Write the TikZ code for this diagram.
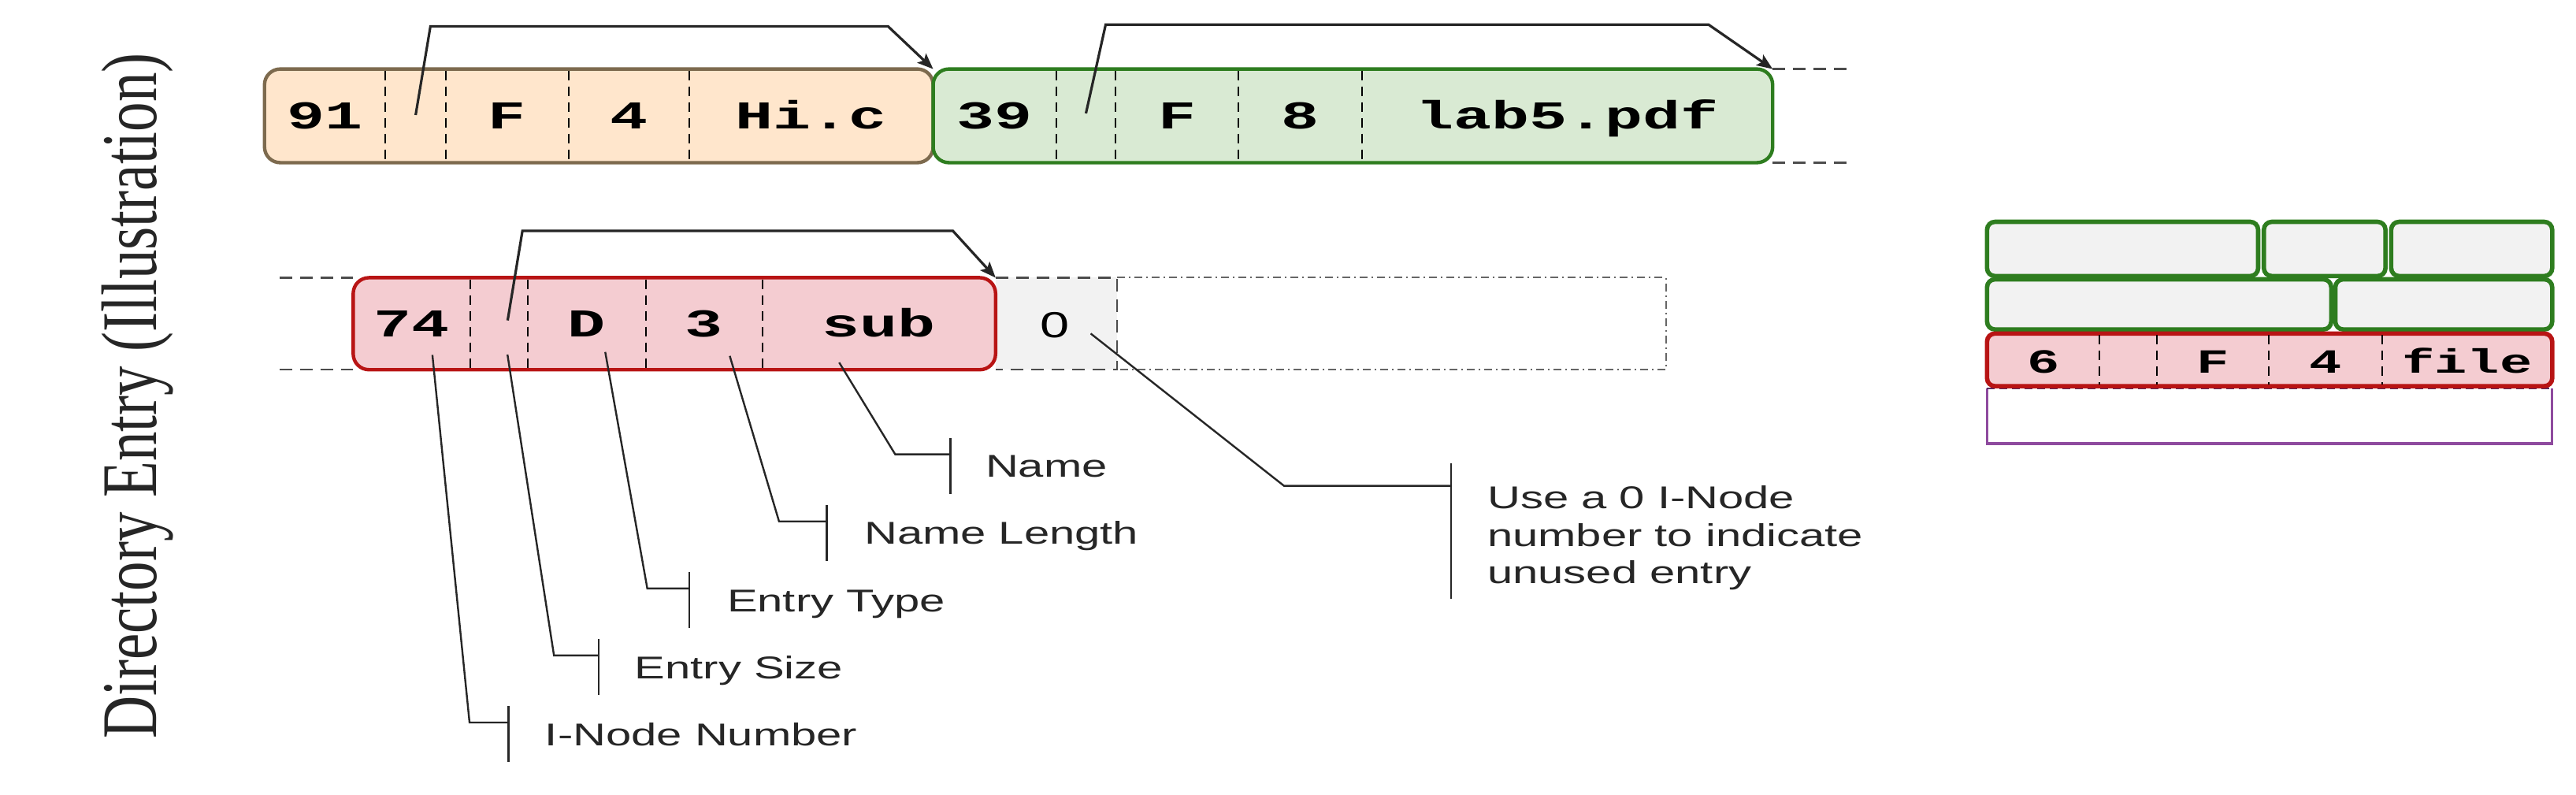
\documentclass[tikz,border=0pt]{standalone}
\usepackage{fontspec}
\usetikzlibrary{arrows.meta}
\newfontfamily\labfont[FakeStretch=1.45]{Liberation Sans}
\newfontfamily\monofont[FakeStretch=1.6]{Liberation Mono}
\newfontfamily\titlefont[FakeStretch=0.75]{Liberation Serif}
\definecolor{orfill}{HTML}{FFE6CC}
\definecolor{ordraw}{HTML}{7D6A4E}
\definecolor{grfill}{HTML}{D9EAD3}
\definecolor{grdraw}{HTML}{2E7D1F}
\definecolor{rdfill}{HTML}{F4CCD1}
\definecolor{rddraw}{HTML}{B81414}
\definecolor{gyfill}{HTML}{F2F2F2}
\definecolor{pudraw}{HTML}{8E4A9E}
\definecolor{inkc}{HTML}{262626}
\newcommand\recbox[6]{\node[#2, minimum width={(#5-#3)*0.5214pt}, minimum height={(#6-#4)*0.5214pt}] (#1) at ({(#3+#5)/2},{(#4+#6)/2}) {};}
\newcommand\vdiv[3]{\draw[divider] (#1,#2) -- (#1,#3);}
\newcommand\callout[7]{%
  \node[lab] (#6) at (#4,#5) {#7};
  \coordinate (#6k) at (#3,#5-14);
  \draw[callout] (#1) -- (#2,#5-14) -- (#6k);
  \draw[callout] (#3,#5-24) -- (#3,#5+10);
}
\tikzset{
  boxbase/.style={rectangle, inner sep=0pt, outer sep=0pt, rounded corners=5pt, line width=1.1pt},
  orbox/.style={boxbase, fill=orfill, draw=ordraw},
  grbox/.style={boxbase, fill=grfill, draw=grdraw},
  rdbox/.style={boxbase, fill=rdfill, draw=rddraw},
  zbox/.style={rectangle, inner sep=0pt, outer sep=0pt, fill=gyfill},
  smgr/.style={rectangle, inner sep=0pt, outer sep=0pt, rounded corners=2.5pt, line width=1.4pt, fill=gyfill, draw=grdraw},
  smrd/.style={rectangle, inner sep=0pt, outer sep=0pt, rounded corners=2.5pt, line width=1.4pt, fill=rdfill, draw=rddraw},
  purbox/.style={rectangle, inner sep=0pt, outer sep=0pt, fill=white},
  divider/.style={draw=black, line width=0.5pt, dash pattern=on 3pt off 2pt},
  guide/.style={draw=black!70, line width=0.6pt, dash pattern=on 4pt off 2.5pt},
  dashdotline/.style={draw=black!60, line width=0.5pt, dash pattern=on 2.5pt off 1.2pt on 0.6pt off 1.2pt},
  mono/.style={font=\monofont\bfseries\fontsize{12.5}{15}\selectfont, inner sep=0pt, anchor=base, text=black},
  monosm/.style={font=\monofont\bfseries\fontsize{10.75}{13}\selectfont, inner sep=0pt, anchor=base, text=black},
  lab/.style={font=\labfont\fontsize{10}{11.86}\selectfont, inner sep=0pt, anchor=base west, text=inkc},
  ptr/.style={draw=inkc, line width=0.8pt, -{Stealth[length=5pt,width=4pt,inset=1pt]}},
  callout/.style={draw=inkc, line width=0.6pt},
}
\begin{document}
\begin{tikzpicture}[x=0.5214pt, y=-0.5214pt]
\fill[white] (0,0) rectangle (1568,483.4);
\useasboundingbox (0,0) rectangle (1568,483.4);

% title
\node[font=\titlefont\fontsize{25}{30}\selectfont, text=inkc, rotate=90, anchor=base, inner sep=0pt] (title) at (95,241) {Directory Entry (Illustration)};

% ---------- top row ----------
\draw[guide] (1079,42) -- (1125,42);
\draw[guide] (1079,99) -- (1125,99);
\recbox{obox}{orbox}{161}{42}{568}{99}
\recbox{gbox}{grbox}{568}{42}{1079}{99}
\vdiv{234.5}{43}{98}
\vdiv{271.5}{43}{98}
\vdiv{346}{43}{98}
\vdiv{419.6}{43}{98}
\vdiv{643}{43}{98}
\vdiv{679}{43}{98}
\vdiv{754}{43}{98}
\vdiv{829}{43}{98}
\node[mono] (o1) at (197.75,78.3) {91};
\node[mono] (o3) at (308.75,78.3) {F};
\node[mono] (o4) at (382.8,78.3) {4};
\node[mono] (o5) at (493.8,78.3) {Hi.c};
\node[mono] (g1) at (605.5,78.3) {39};
\node[mono] (g3) at (716.5,78.3) {F};
\node[mono] (g4) at (791.5,78.3) {8};
\node[mono] (g5) at (954,78.3) {lab5.pdf};
\coordinate (p1) at (253,70);
\coordinate (p2) at (661,69);
\draw[ptr] (p1) -- (262,16) -- (540.5,16) -- (obox.north east);
\draw[ptr] (p2) -- (673,15) -- (1040,15) -- (gbox.north east);

% ---------- middle row ----------
\draw[guide] (170,169) -- (215,169);
\draw[guide] (170,225) -- (215,225);
\recbox{zcell}{zbox}{606}{169}{680}{225}
\draw[guide] (zcell.north west) -- (zcell.north east) -- (zcell.south east) -- (zcell.south west);
\draw[dashdotline] (zcell.north east) -- (1014,169) -- (1014,225) -- (zcell.south east);
\recbox{rbox}{rdbox}{215}{169}{606}{225}
\vdiv{286.5}{170}{224}
\vdiv{321.5}{170}{224}
\vdiv{393}{170}{224}
\vdiv{464}{170}{224}
\node[mono] (r1) at (250.75,205) {74};
\node[mono] (r3) at (357,205) {D};
\node[mono] (r4) at (428.5,205) {3};
\node[mono] (r5) at (535,205) {sub};
\node[font=\labfont\fontsize{11.5}{13}\selectfont, inner sep=0pt, anchor=base, text=black] (z0) at (642,205.4) {0};
\coordinate (p3) at (309,195);
\draw[ptr] (p3) -- (318,140.5) -- (580,140.5) -- (rbox.north east);

% ---------- callouts ----------
\coordinate (s1) at (263.2,216);
\coordinate (s2) at (308.9,215.8);
\coordinate (s3) at (368.4,214.2);
\coordinate (s4) at (444.2,216.6);
\coordinate (s5) at (510.8,220.6);
\callout{s1}{285.8}{309.6}{331.4}{453.7}{lin}{I-Node Number}
\callout{s2}{337.2}{364.5}{386}{412.9}{les}{Entry Size}
\callout{s3}{394}{419.7}{442.2}{372.1}{let}{Entry Type}
\callout{s4}{474.2}{503.2}{525.7}{331.3}{lnl}{Name Length}
\callout{s5}{544.9}{578.6}{599.5}{290.5}{lnm}{Name}

\coordinate (s6) at (663.9,203);
\coordinate (k6) at (883.3,295.7);
\draw[callout] (s6) -- (781.6,295.7) -- (k6);
\draw[callout] (883.3,282.1) -- (883.3,364.4);
\node[lab] (u1) at (905,309.6) {Use a 0 I-Node};
\node[lab] (u2) at (905,332.35) {number to indicate};
\node[lab] (u3) at (905,355.1) {unused entry};

% ---------- right block ----------
\recbox{ga1}{smgr}{1209.5}{135}{1374.5}{168}
\recbox{ga2}{smgr}{1378}{135}{1452}{168}
\recbox{ga3}{smgr}{1455.5}{135}{1553.5}{168}
\recbox{gb1}{smgr}{1209.5}{170}{1419}{200.5}
\recbox{gb2}{smgr}{1421.5}{170}{1553.5}{200.5}
\recbox{pu}{purbox}{1209.5}{236.5}{1553.5}{270}
\draw[draw=pudraw, line width=0.8pt] (pu.north west) -- (pu.south west) -- (pu.south east) -- (pu.north east);
\draw[draw=pudraw!60!black, line width=0.6pt, dash pattern=on 2.5pt off 1.5pt] (pu.north west) -- (pu.north east);
\recbox{rr}{smrd}{1209.5}{203}{1553.5}{235}
\vdiv{1278}{204}{234}
\vdiv{1313}{204}{234}
\vdiv{1381}{204}{234}
\vdiv{1450}{204}{234}
\node[monosm] (q1) at (1243.75,227) {6};
\node[monosm] (q3) at (1347,227) {F};
\node[monosm] (q4) at (1415.5,227) {4};
\node[monosm] (q5) at (1501.75,227) {file};
\end{tikzpicture}
\end{document}
